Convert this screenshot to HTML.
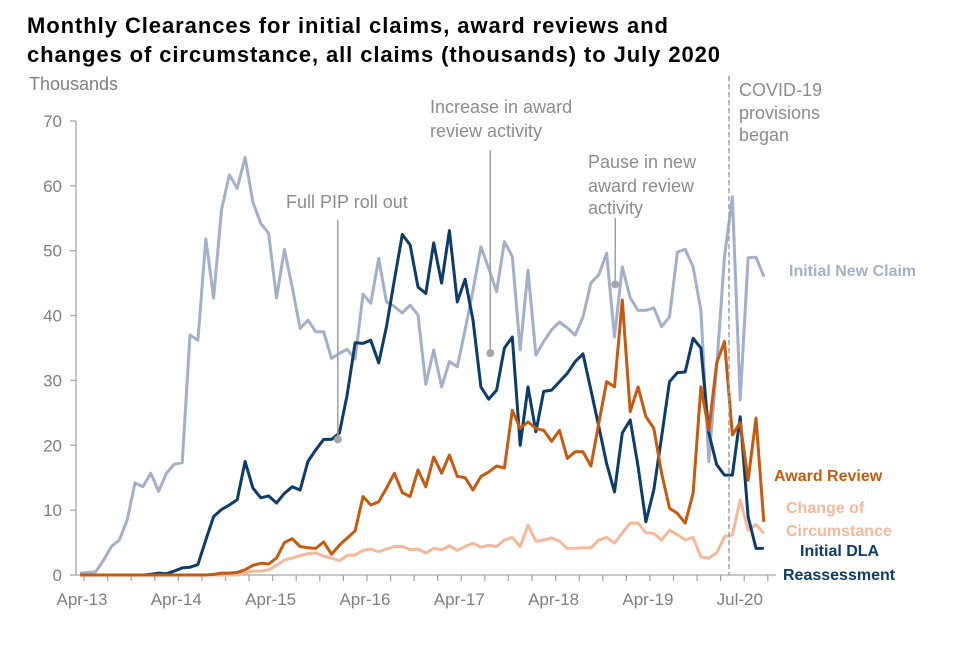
<!DOCTYPE html>
<html><head><meta charset="utf-8">
<style>
body{margin:0;background:#fff;width:960px;height:640px;overflow:hidden;font-family:"Liberation Sans",sans-serif;}
svg text{font-family:"Liberation Sans",sans-serif;}
</style></head>
<body>
<svg id="chart" width="960" height="640">
<text x="27" y="33" font-size="22" font-weight="bold" fill="#000" textLength="641" lengthAdjust="spacing">Monthly Clearances for initial claims, award reviews and</text>
<text x="27" y="62" font-size="22" font-weight="bold" fill="#000" textLength="693" lengthAdjust="spacing">changes of circumstance, all claims (thousands) to July 2020</text>
<text x="29" y="90" font-size="18" fill="#7f7f7f">Thousands</text>
<g id="axes"></g>
<g id="series"></g>
<g id="annotations"></g>
</svg>
<script>
const newClaim=[0.3,0.4,0.5,2.3,4.4,5.4,8.5,14.2,13.6,15.7,12.9,15.7,17.1,17.3,37,36.2,51.8,42.7,56.3,61.7,59.6,64.4,57.5,54.2,52.7,42.7,50.2,44.4,38,39.3,37.5,37.5,33.4,34.2,34.8,33.3,43.3,41.9,48.8,42.1,41.4,40.4,41.6,40.1,29.4,34.7,29,32.9,32.1,37.8,43.9,50.6,47.3,43.7,51.4,49.1,34.7,47,33.9,36,37.8,39,38.1,37,39.8,45,46.3,49.6,36.7,47.5,42.7,40.8,40.8,41.2,38.3,39.8,49.8,50.2,47.5,40.8,17.5,32.1,49.1,58.3,27,48.9,49,46];
const dla=[0,0,0,0,0,0,0,0,0,0.1,0.3,0.2,0.6,1.1,1.2,1.6,5.4,9,10.1,10.8,11.6,17.5,13.4,11.9,12.2,11.1,12.6,13.6,13.1,17.5,19.3,20.9,20.9,21.9,27.8,35.8,35.7,36.2,32.7,38.3,45.5,52.5,50.9,44.4,43.4,51.2,45,53.1,42.1,45.6,39.3,29,27.1,28.5,35,36.7,20,29,22.1,28.3,28.5,29.8,31.1,32.9,34.1,28.5,22.9,17.2,12.8,21.9,23.9,16.7,8.2,13.1,21.3,29.8,31.2,31.3,36.5,35,21.9,17,15.4,15.4,24.4,9,4.1,4.1];
const awardReview=[0,0,0,0,0,0,0,0,0,0,0,0,0,0,0,0,0,0.1,0.3,0.3,0.4,0.8,1.5,1.8,1.7,2.6,5,5.6,4.4,4.2,4.1,5.1,3.2,4.6,5.7,6.8,12.1,10.8,11.3,13.4,15.7,12.7,12.1,16.2,13.6,18.2,15.7,18.5,15.2,15,13.1,15.2,15.9,16.8,16.5,25.4,22.6,23.6,22.6,22.3,20.6,22.3,18,19,19,16.8,23.4,29.8,29,42.4,25.2,29,24.4,22.6,15.7,10.3,9.5,8,12.6,29,22.3,32.7,36,21.6,23.5,14.6,24.2,8.2];
const changeCirc=[0,0,0,0,0,0,0,0,0,0,0,0,0,0,0,0,0,0,0,0,0,0.3,0.6,0.6,0.8,1.5,2.3,2.6,3,3.3,3.4,2.9,2.6,2.2,3,3.1,3.8,4,3.6,4,4.4,4.4,3.9,4,3.4,4.1,3.9,4.5,3.8,4.4,4.9,4.3,4.6,4.4,5.4,5.8,4.4,7.7,5.2,5.4,5.7,5.2,4.1,4.1,4.2,4.2,5.4,5.8,4.9,6.5,8,8,6.5,6.4,5.4,6.9,6.2,5.4,5.8,2.8,2.6,3.4,5.9,6.2,11.6,6.9,7.8,6.4];
const yTicks=[0,10,20,30,40,50,60,70];
const xLabels=["Apr-13","Apr-14","Apr-15","Apr-16","Apr-17","Apr-18","Apr-19","Jul-20"];
const xLabelIdx=[0,12,24,36,48,60,72,87];

const X0=80,DX=7.86,Y0=575,PY=6.486;
const xs=i=>X0+DX*i;
const ys=v=>Y0-PY*v;
const NS="http://www.w3.org/2000/svg";
function mk(tag,attrs,parent){const e=document.createElementNS(NS,tag);for(const k in attrs)e.setAttribute(k,attrs[k]);parent.appendChild(e);return e;}
const axes=document.getElementById('axes'),series=document.getElementById('series'),ann=document.getElementById('annotations');
const ax="#a6a6a6";
let yl=mk('line',{x1:76,y1:ys(70),x2:76,y2:Y0,stroke:ax,'stroke-width':1.3},axes);


yTicks.forEach(v=>{
 const t=mk('line',{x1:70,y1:ys(v),x2:76,y2:ys(v),stroke:ax,'stroke-width':1.3},axes);
 
 
 const l=mk('text',{x:62,y:ys(v)+6,'font-size':17,fill:'#7f7f7f','text-anchor':'end'},axes);
 l.textContent=v;
 
 
});
let xl=mk('line',{x1:76,y1:Y0,x2:776,y2:Y0,stroke:ax,'stroke-width':1.3},axes);


for(let i=0;i<=87;i+=3){
 const t=mk('line',{x1:xs(i)+4,y1:Y0,x2:xs(i)+4,y2:Y0+6,stroke:ax,'stroke-width':1.3},axes);
 
 
}
xLabels.forEach((s,k)=>{
 const i=xLabelIdx[k];
 const l=mk('text',{x:k===7?xs(i)-24:xs(i)+2,y:Y0+30,'font-size':17,fill:'#7f7f7f','text-anchor':'middle'},axes);
 l.textContent=s;
 
 
});
function line(data,color,name,w){
 const d=data.map((v,i)=>(i?'L':'M')+xs(i).toFixed(1)+','+ys(v).toFixed(1)).join('');
 const p=mk('path',{d:d,fill:'none',stroke:color,'stroke-width':w,'stroke-linejoin':'round'},series);
 
 
}
line(changeCirc,'#f4b99a','change-of-circumstance-line',3);
line(newClaim,'#a3b0ca','initial-new-claim-line',3);
line(dla,'#0c3c67','initial-dla-reassessment-line',3);
line(awardReview,'#c55a11','award-review-line',3);

const g="#8c8c8c";
function annot(i,v,yTop,name){
 const l=mk('line',{x1:xs(i),y1:yTop,x2:xs(i),y2:ys(v),stroke:'#a0a0a0','stroke-width':1.5},ann);
 
 
 const c=mk('circle',{cx:xs(i),cy:ys(v),r:4,fill:'#a6a6a6'},ann);
 
 
}
annot(32.8,20.9,220,'pip-rollout');
annot(52.2,34.2,150,'award-review-increase');
annot(68.1,44.8,218,'pause-award-review');
function txt(x,y,s,name,fill,size,weight,anchor){
 const t=mk('text',{x:x,y:y,'font-size':size||18,fill:fill||g,'font-weight':weight||'normal','text-anchor':anchor||'start'},ann);
 t.textContent=s;
 
 
}
txt(286,208,'Full PIP roll out','pip-rollout-label');
txt(430,113,'Increase in award','award-review-increase-label-1');
txt(430,137,'review activity','award-review-increase-label-2');
txt(588,168,'Pause in new','pause-label-1');
txt(588,192,'award review','pause-label-2');
txt(588,214,'activity','pause-label-3');
let cv=mk('line',{x1:729,y1:76,x2:729,y2:575,stroke:'#a0a0a0','stroke-width':1.5,'stroke-dasharray':'5,3'},ann);


txt(739,96,'COVID-19','covid-label-1');
txt(739,119,'provisions','covid-label-2');
txt(739,141,'began','covid-label-3');
txt(789,276,'Initial New Claim','legend-initial-new-claim','#a3b0ca',16,'bold');
txt(774,481,'Award Review','legend-award-review','#c55a11',16,'bold');
txt(786,513,'Change of','legend-change-of-circumstance-1','#f4b99a',16,'bold');
txt(786,536,'Circumstance','legend-change-of-circumstance-2','#f4b99a',16,'bold');
txt(800,556,'Initial DLA','legend-initial-dla-1','#0c3c67',16,'bold');
txt(783,580,'Reassessment','legend-initial-dla-2','#0c3c67',16,'bold');
</script>
</body></html>
